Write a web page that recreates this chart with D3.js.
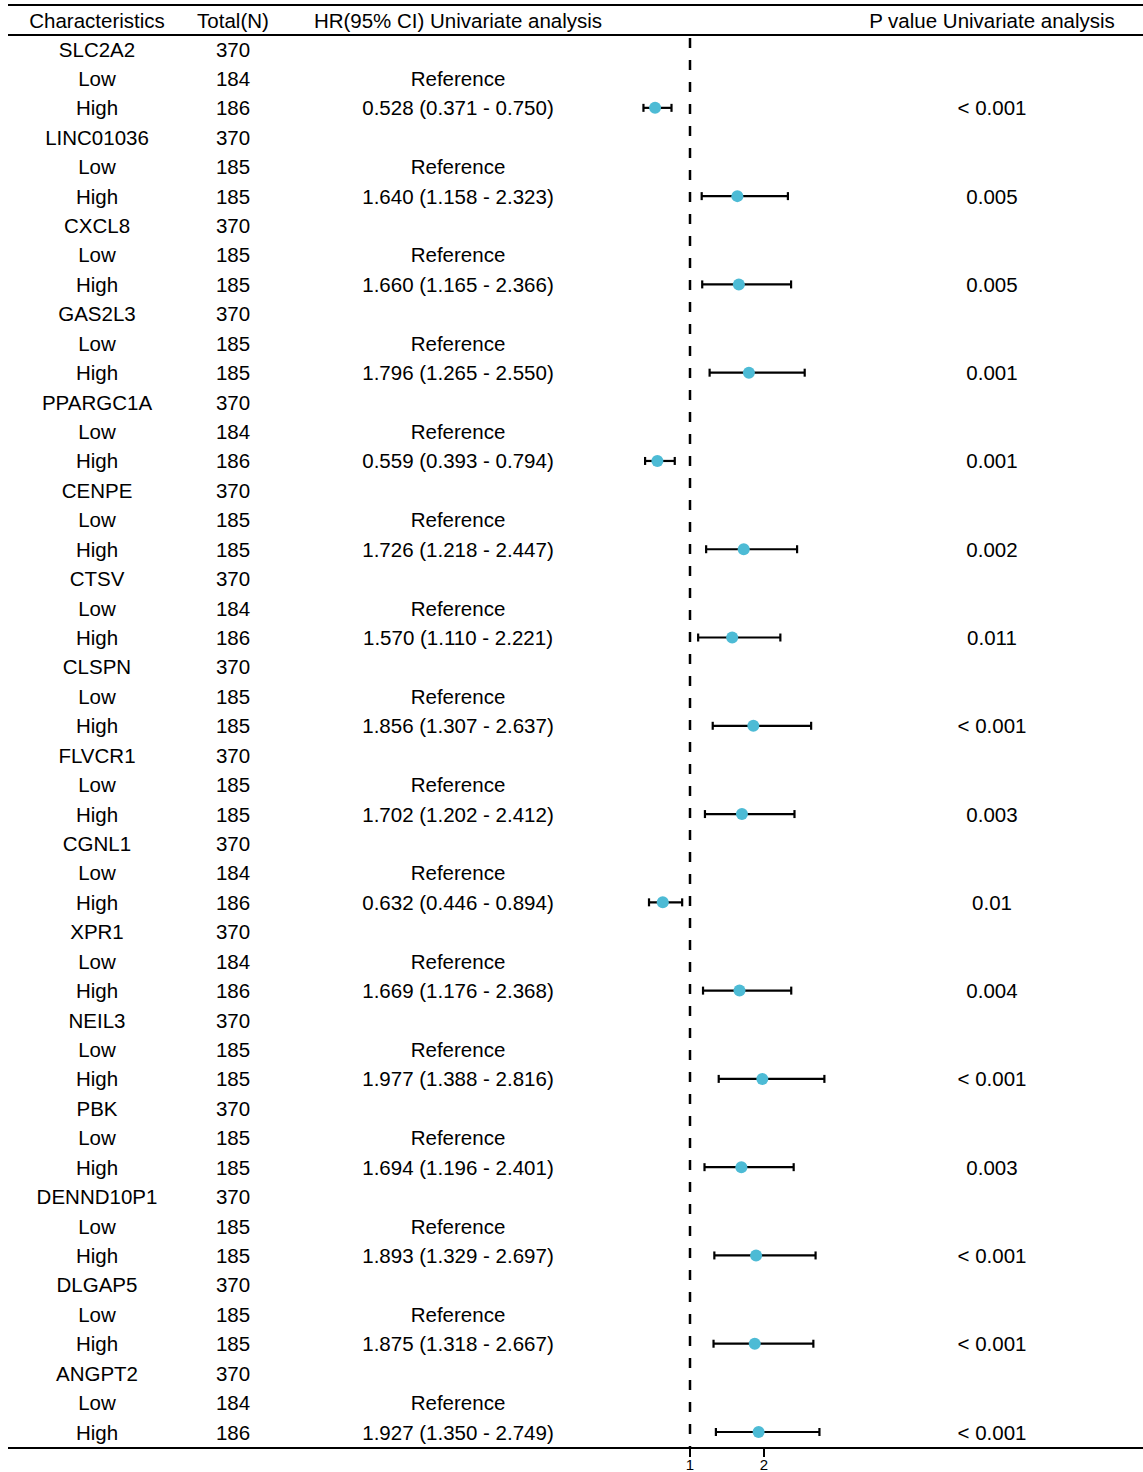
<!DOCTYPE html>
<html><head><meta charset="utf-8">
<script src="https://cdn.jsdelivr.net/npm/d3@7"></script>
<style>body{margin:0;background:#fff}svg{display:block}text{font-family:"Liberation Sans",Arial,sans-serif;fill:#000}</style>
</head><body>
<svg id="c" width="1143" height="1472"></svg>
<script>
const genes=["SLC2A2","LINC01036","CXCL8","GAS2L3","PPARGC1A","CENPE","CTSV","CLSPN","FLVCR1","CGNL1","XPR1","NEIL3","PBK","DENND10P1","DLGAP5","ANGPT2"];
const totalN=[370,370,370,370,370,370,370,370,370,370,370,370,370,370,370,370];
const lowN=[184,185,185,185,184,185,184,185,185,184,184,185,185,185,185,184];
const highN=[186,185,185,185,186,185,186,185,185,186,186,185,185,185,185,186];
const hr=[0.528,1.640,1.660,1.796,0.559,1.726,1.570,1.856,1.702,0.632,1.669,1.977,1.694,1.893,1.875,1.927];
const lower=[0.371,1.158,1.165,1.265,0.393,1.218,1.110,1.307,1.202,0.446,1.176,1.388,1.196,1.329,1.318,1.350];
const upper=[0.750,2.323,2.366,2.550,0.794,2.447,2.221,2.637,2.412,0.894,2.368,2.816,2.401,2.697,2.667,2.749];
const pvals=["< 0.001","0.005","0.005","0.001","0.001","0.002","0.011","< 0.001","0.003","0.01","0.004","< 0.001","0.003","< 0.001","< 0.001","< 0.001"];
const headers=["Characteristics","Total(N)","HR(95% CI) Univariate analysis","P value Univariate analysis"];
const xTicks=[1,2];

const rows=[];
genes.forEach((g,i)=>{
  rows.push({c1:g,c2:totalN[i],c3:"",c4:""});
  rows.push({c1:"Low",c2:lowN[i],c3:"Reference",c4:""});
  rows.push({c1:"High",c2:highN[i],c3:`${hr[i].toFixed(3)} (${lower[i].toFixed(3)} - ${upper[i].toFixed(3)})`,c4:pvals[i],hr:hr[i],lo:lower[i],hi:upper[i]});
});

const svg=d3.select("#c");
const fs=20.5;
const x=d3.scaleLinear().domain([1,2]).range([690,764]);
const y=d3.scalePoint().domain(d3.range(rows.length)).range([49,1432]);
const colX=[97,233,458,992];

svg.selectAll("text.h").data(headers).join("text").attr("class","h")
  .attr("x",(d,i)=>colX[i]).attr("y",20).attr("text-anchor","middle")
  .attr("dominant-baseline","central").style("font-size",fs+"px").text(d=>d);

[5,35,1448].forEach(yy=>svg.append("line").attr("x1",8).attr("x2",1143).attr("y1",yy).attr("y2",yy)
  .attr("stroke","#000").attr("stroke-width",2));

svg.append("line").attr("x1",x(1)).attr("x2",x(1)).attr("y1",38).attr("y2",1447)
  .attr("stroke","#000").attr("stroke-width",2.5).attr("stroke-dasharray","10,12");

const g=svg.append("g");
rows.forEach((r,i)=>{
  ["c1","c2","c3","c4"].forEach((k,j)=>{
    if(r[k]==="") return;
    g.append("text").attr("x",colX[j]).attr("y",y(i)).attr("text-anchor","middle")
      .attr("dominant-baseline","central").style("font-size",fs+"px").text(r[k]);
  });
});

const est=rows.map((r,i)=>({...r,i})).filter(r=>r.hr!==undefined);
const eg=svg.append("g");
eg.selectAll("line.ci").data(est).join("line").attr("class","ci")
  .attr("x1",d=>x(d.lo)).attr("x2",d=>x(d.hi)).attr("y1",d=>y(d.i)).attr("y2",d=>y(d.i))
  .attr("stroke","#000").attr("stroke-width",2.2);
["lo","hi"].forEach(k=>{
  eg.selectAll("line.cap"+k).data(est).join("line").attr("class","cap"+k)
    .attr("x1",d=>x(d[k])).attr("x2",d=>x(d[k])).attr("y1",d=>y(d.i)-4).attr("y2",d=>y(d.i)+4)
    .attr("stroke","#000").attr("stroke-width",2.2);
});
eg.selectAll("circle").data(est).join("circle")
  .attr("cx",d=>x(d.hr)).attr("cy",d=>y(d.i)).attr("r",6).attr("fill","#4DBBD5");

const ag=svg.append("g");
ag.selectAll("line").data(xTicks).join("line").attr("x1",d=>x(d)).attr("x2",d=>x(d))
  .attr("y1",1448).attr("y2",1457).attr("stroke","#000").attr("stroke-width",2);
ag.selectAll("text").data(xTicks).join("text").attr("x",d=>x(d)).attr("y",1470)
  .attr("text-anchor","middle").style("font-size","15px").text(d=>d);
</script>
</body></html>
